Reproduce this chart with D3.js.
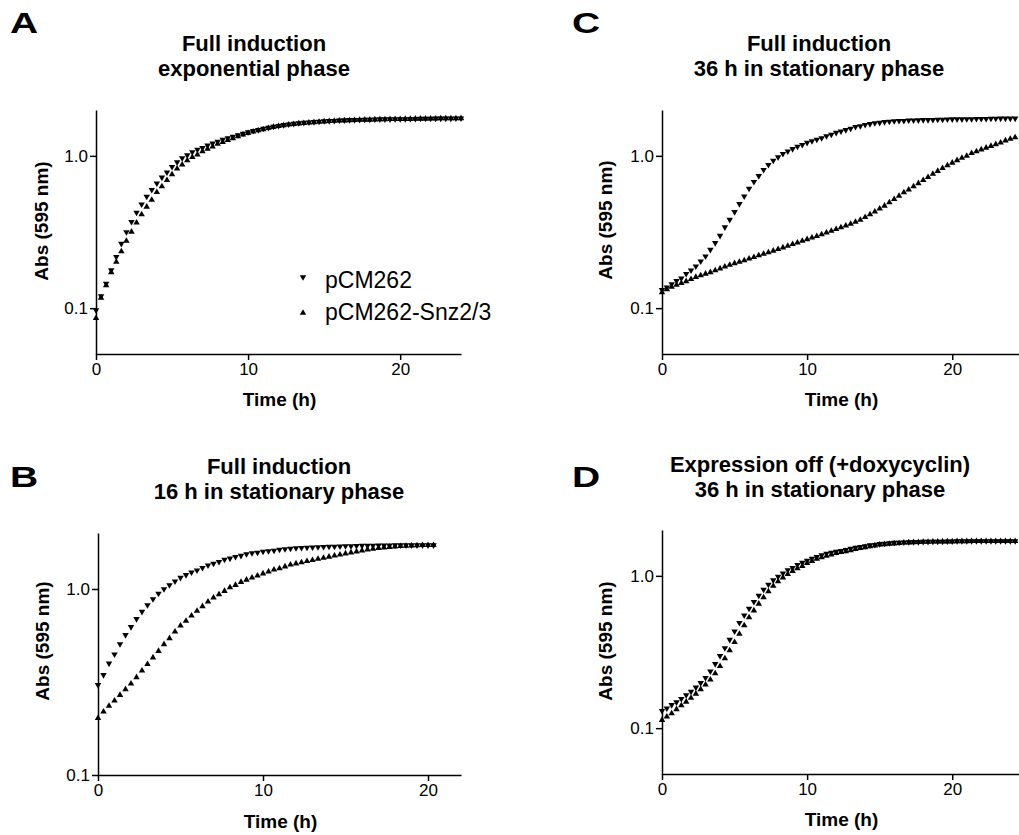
<!DOCTYPE html>
<html>
<head>
<meta charset="utf-8">
<script src="https://cdn.jsdelivr.net/npm/d3@7"></script>
<style>
  body { margin: 0; background: #fff; }
  svg text { font-family: Arial, "Liberation Sans", Helvetica, sans-serif; fill: #000; }
</style>
</head>
<body>
<div id="figure"></div>
<script>
// readings were taken every 20 min
const stepHours = 20 / 60;

const seriesNames = ["pCM262", "pCM262-Snz2/3"];
const xTicks = [0, 10, 20];
const yTicks = [0.1, 1.0];

// A - full induction, exponential phase
const ctrlA = [0.097, 0.120, 0.145, 0.178, 0.217, 0.265, 0.316, 0.369, 0.424, 0.481,
  0.540, 0.599, 0.660, 0.721, 0.779, 0.848, 0.908, 0.966, 1.01, 1.06,
  1.10, 1.13, 1.17, 1.21, 1.24, 1.28, 1.31, 1.34, 1.37, 1.40,
  1.43, 1.46, 1.48, 1.51, 1.53, 1.555, 1.575, 1.595, 1.61, 1.625,
  1.64, 1.65, 1.66, 1.67, 1.68, 1.69, 1.695, 1.70, 1.71, 1.715,
  1.72, 1.72, 1.725, 1.73, 1.73, 1.735, 1.74, 1.74, 1.74, 1.745,
  1.745, 1.745, 1.75, 1.75, 1.755, 1.755, 1.755, 1.76, 1.76, 1.76,
  1.76, 1.765, 1.765];
const snzA = [0.086, 0.117, 0.141, 0.172, 0.201, 0.236, 0.276, 0.317, 0.364, 0.412,
  0.463, 0.514, 0.577, 0.630, 0.693, 0.755, 0.824, 0.876, 0.933, 0.981,
  1.02, 1.07, 1.11, 1.15, 1.20, 1.23, 1.27, 1.30, 1.34, 1.38,
  1.41, 1.44, 1.47, 1.49, 1.52, 1.545, 1.565, 1.585, 1.60, 1.615,
  1.63, 1.64, 1.65, 1.66, 1.67, 1.68, 1.69, 1.695, 1.70, 1.705,
  1.71, 1.715, 1.72, 1.725, 1.725, 1.73, 1.735, 1.735, 1.74, 1.74,
  1.74, 1.745, 1.745, 1.75, 1.75, 1.75, 1.755, 1.755, 1.76, 1.76,
  1.76, 1.76, 1.765];

// B - full induction, 16 h in stationary phase
const ctrlB = [0.305, 0.345, 0.398, 0.445, 0.506, 0.566, 0.625, 0.690, 0.755, 0.82,
  0.883, 0.944, 1.0, 1.05, 1.10, 1.15, 1.19, 1.23, 1.26, 1.30,
  1.34, 1.37, 1.40, 1.44, 1.46, 1.49, 1.51, 1.54, 1.56, 1.57,
  1.59, 1.60, 1.61, 1.63, 1.64, 1.65, 1.66, 1.665, 1.67, 1.675,
  1.68, 1.685, 1.69, 1.69, 1.695, 1.70, 1.70, 1.705, 1.71, 1.71,
  1.71, 1.715, 1.715, 1.715, 1.72, 1.72, 1.72, 1.72, 1.72, 1.72,
  1.72, 1.72];
const snzB = [0.202, 0.219, 0.235, 0.251, 0.269, 0.289, 0.310, 0.335, 0.364, 0.394,
  0.428, 0.464, 0.504, 0.543, 0.590, 0.635, 0.673, 0.719, 0.762, 0.807,
  0.855, 0.898, 0.936, 0.975, 1.02, 1.05, 1.09, 1.12, 1.15, 1.18,
  1.21, 1.24, 1.27, 1.29, 1.32, 1.35, 1.37, 1.39, 1.41, 1.43,
  1.45, 1.47, 1.49, 1.51, 1.53, 1.55, 1.57, 1.59, 1.61, 1.63,
  1.645, 1.66, 1.67, 1.68, 1.69, 1.70, 1.705, 1.71, 1.715, 1.72,
  1.72, 1.72];

// C - full induction, 36 h in stationary phase
const ctrlC = [0.132, 0.137, 0.144, 0.151, 0.157, 0.168, 0.177, 0.188, 0.203, 0.219,
  0.242, 0.268, 0.299, 0.340, 0.381, 0.428, 0.483, 0.543, 0.610, 0.675,
  0.738, 0.809, 0.873, 0.932, 0.98, 1.03, 1.07, 1.11, 1.15, 1.18,
  1.22, 1.25, 1.28, 1.31, 1.35, 1.38, 1.42, 1.45, 1.48, 1.51,
  1.55, 1.57, 1.60, 1.62, 1.64, 1.65, 1.67, 1.68, 1.69, 1.70,
  1.70, 1.71, 1.71, 1.715, 1.72, 1.72, 1.725, 1.73, 1.73, 1.735,
  1.74, 1.74, 1.74, 1.745, 1.745, 1.75, 1.75, 1.75, 1.755, 1.755,
  1.76, 1.76, 1.76, 1.76];
const snzC = [0.127, 0.133, 0.138, 0.142, 0.146, 0.150, 0.155, 0.160, 0.164, 0.168,
  0.172, 0.177, 0.182, 0.187, 0.192, 0.197, 0.201, 0.206, 0.211, 0.216,
  0.222, 0.227, 0.232, 0.238, 0.244, 0.250, 0.256, 0.263, 0.269, 0.276,
  0.283, 0.290, 0.297, 0.305, 0.313, 0.321, 0.330, 0.339, 0.348, 0.357,
  0.368, 0.380, 0.396, 0.412, 0.430, 0.450, 0.470, 0.495, 0.520, 0.545,
  0.575, 0.600, 0.630, 0.660, 0.692, 0.725, 0.760, 0.795, 0.830, 0.865,
  0.900, 0.935, 0.970, 1.00, 1.04, 1.07, 1.10, 1.13, 1.16, 1.19,
  1.22, 1.26, 1.29, 1.32];

// D - expression off (+doxycyclin), 36 h in stationary phase
const ctrlD = [0.130, 0.135, 0.142, 0.148, 0.156, 0.165, 0.174, 0.185, 0.198, 0.214,
  0.236, 0.264, 0.298, 0.336, 0.381, 0.432, 0.491, 0.551, 0.610, 0.675,
  0.742, 0.813, 0.877, 0.936, 0.99, 1.04, 1.09, 1.13, 1.18, 1.22,
  1.26, 1.30, 1.33, 1.37, 1.40, 1.42, 1.44, 1.46, 1.48, 1.51,
  1.53, 1.55, 1.57, 1.59, 1.60, 1.62, 1.63, 1.64, 1.65, 1.655,
  1.66, 1.665, 1.67, 1.67, 1.675, 1.675, 1.68, 1.68, 1.68, 1.685,
  1.685, 1.69, 1.69, 1.69, 1.69, 1.69, 1.69, 1.69, 1.69, 1.69,
  1.69, 1.69, 1.69, 1.69];
const snzD = [0.113, 0.119, 0.125, 0.133, 0.141, 0.149, 0.158, 0.168, 0.180, 0.193,
  0.208, 0.229, 0.255, 0.287, 0.324, 0.367, 0.416, 0.473, 0.533, 0.592,
  0.655, 0.722, 0.790, 0.858, 0.918, 0.974, 1.025, 1.075, 1.12, 1.16,
  1.21, 1.25, 1.29, 1.32, 1.35, 1.38, 1.41, 1.43, 1.45, 1.47,
  1.50, 1.52, 1.54, 1.56, 1.58, 1.60, 1.61, 1.62, 1.63, 1.64,
  1.65, 1.655, 1.66, 1.665, 1.67, 1.67, 1.675, 1.675, 1.68, 1.68,
  1.68, 1.685, 1.685, 1.685, 1.69, 1.69, 1.69, 1.69, 1.69, 1.69,
  1.69, 1.69, 1.69, 1.69];

const panels = [
  { letter: "A", title: ["Full induction", "exponential phase"], ctrl: ctrlA, snz: snzA,
    xMax: 24, yMin: 0.05, left: 96, right: 461, top: 110, bottom: 354,
    letterAt: [10, 33], titleAt: [254, 51], yLabelAt: [48, 221], xLabelY: 406, legend: true },
  { letter: "B", title: ["Full induction", "16 h in stationary phase"], ctrl: ctrlB, snz: snzB,
    xMax: 22, yMin: 0.1, left: 98, right: 461, top: 533, bottom: 775,
    letterAt: [10, 487], titleAt: [279, 474], yLabelAt: [49, 641], xLabelY: 828 },
  { letter: "C", title: ["Full induction", "36 h in stationary phase"], ctrl: ctrlC, snz: snzC,
    xMax: 24.6, yMin: 0.05, left: 662, right: 1019, top: 110, bottom: 354,
    letterAt: [572, 33], titleAt: [819, 51], yLabelAt: [612, 220], xLabelY: 406 },
  { letter: "D", title: ["Expression off (+doxycyclin)", "36 h in stationary phase"], ctrl: ctrlD, snz: snzD,
    xMax: 24.6, yMin: 0.05, left: 662, right: 1019, top: 530, bottom: 774,
    letterAt: [572, 487], titleAt: [820, 472], yLabelAt: [612, 641], xLabelY: 826 }
];

const svg = d3.select("#figure")
  .append("svg")
    .attr("width", 1019)
    .attr("height", 835);

const tri = d3.symbol(d3.symbolTriangle, 18);

panels.forEach(function(p) {
  const x = d3.scaleLinear().domain([0, p.xMax]).range([p.left, p.right]);
  const y = d3.scaleLog().domain([p.yMin, 2]).range([p.bottom, p.top]);

  // panel letter
  svg.append("text")
    .attr("transform", `translate(${p.letterAt[0]},${p.letterAt[1]}) scale(1.3,1)`)
    .style("font-size", "30px")
    .style("font-weight", "900")
    .text(p.letter);

  // title, two lines
  svg.append("g").selectAll("text")
    .data(p.title)
    .join("text")
      .attr("x", p.titleAt[0])
      .attr("y", (d, i) => p.titleAt[1] + i * 25)
      .attr("text-anchor", "middle")
      .style("font-size", "22px")
      .style("font-weight", "bold")
      .text(d => d);

  // axes
  const gx = svg.append("g")
    .attr("transform", `translate(0,${p.bottom})`)
    .call(d3.axisBottom(x).tickValues(xTicks).tickSize(6).tickSizeOuter(0).tickPadding(3));
  const gy = svg.append("g")
    .attr("transform", `translate(${p.left},0)`)
    .call(d3.axisLeft(y).tickValues(yTicks).tickFormat(d3.format(".1f")).tickSize(6).tickSizeOuter(0).tickPadding(2));
  [gx, gy].forEach(g => {
    g.attr("font-family", null).attr("font-size", null);
    g.selectAll("path, line").attr("stroke", "#000").attr("stroke-width", 1.5);
    g.selectAll("text").style("font-size", "17px").attr("fill", "#000");
  });

  svg.append("text")
    .attr("x", (p.left + p.right) / 2 + 1)
    .attr("y", p.xLabelY)
    .attr("text-anchor", "middle")
    .style("font-size", "19px")
    .style("font-weight", "bold")
    .text("Time (h)");

  svg.append("text")
    .attr("transform", `translate(${p.yLabelAt[0]},${p.yLabelAt[1]}) rotate(-90)`)
    .attr("text-anchor", "middle")
    .style("font-size", "19px")
    .style("font-weight", "bold")
    .text("Abs (595 nm)");

  // data points: pCM262 = down triangles, pCM262-Snz2/3 = up triangles
  [[p.snz, false], [p.ctrl, true]].forEach(function([vals, down]) {
    svg.append("g").selectAll("path")
      .data(vals)
      .join("path")
        .attr("d", tri)
        .attr("transform", (d, i) => `translate(${x(i * stepHours)},${y(d)})` + (down ? " rotate(180)" : ""))
        .attr("fill", "#000");
  });

  if (p.legend) {
    const lg = svg.append("g").attr("transform", "translate(303,281)");
    lg.selectAll("path")
      .data(seriesNames)
      .join("path")
        .attr("d", tri)
        .attr("transform", (d, i) => `translate(0,${i * 36 - 4})` + (i === 0 ? " rotate(180)" : ""))
        .attr("fill", "#000");
    lg.selectAll("text")
      .data(seriesNames)
      .join("text")
        .attr("x", 22)
        .attr("y", (d, i) => 7 + i * 32)
        .style("font-size", "23px")
        .text(d => d);
  }
});
</script>
</body>
</html>
